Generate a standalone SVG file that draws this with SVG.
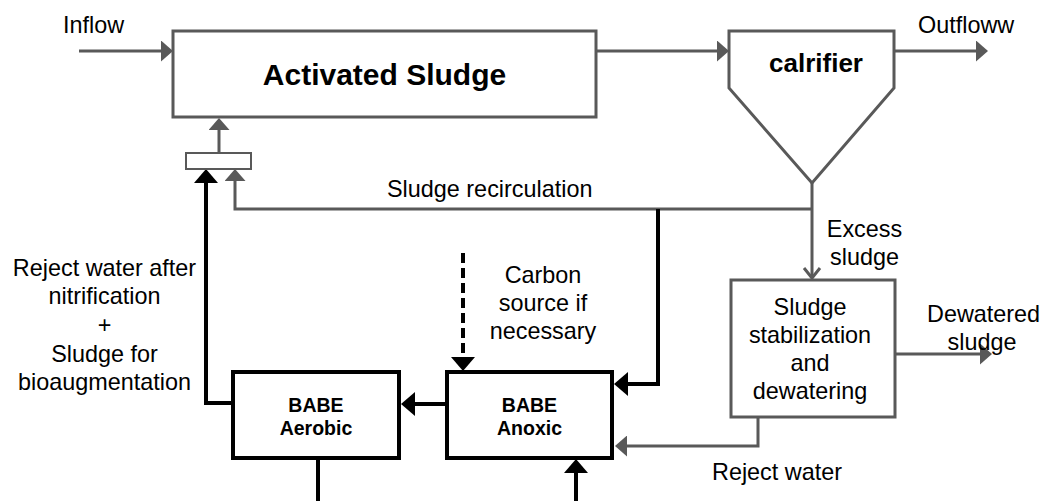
<svg xmlns="http://www.w3.org/2000/svg" width="1041" height="501" viewBox="0 0 1041 501">
  <style>
    text { font-family: "Liberation Sans", Arial, sans-serif; fill: #000; }
    .lbl { font-size: 23.4px; }
    .mid { text-anchor: middle; }
    .title { font-size: 30px; font-weight: bold; text-anchor: middle; }
    .clar { font-size: 26px; font-weight: bold; text-anchor: middle; }
    .babe { font-size: 19.5px; font-weight: bold; text-anchor: middle; }
    .gbox { fill: #fff; stroke: #595959; stroke-width: 3; }
    .bbox { fill: #fff; stroke: #000; stroke-width: 4; }
    .gline { fill: none; stroke: #595959; stroke-width: 3; }
    .bline { fill: none; stroke: #000; stroke-width: 4; }
  </style>
  <defs>
    <marker id="ag" markerUnits="userSpaceOnUse" markerWidth="12" markerHeight="21" refX="6" refY="10.5" orient="auto">
      <path d="M0,0 L12,10.5 L0,21 Z" fill="#595959"/>
    </marker>
    <marker id="ab" markerUnits="userSpaceOnUse" markerWidth="14" markerHeight="24" refX="7" refY="12" orient="auto">
      <path d="M0,0 L14,12 L0,24 Z" fill="#000"/>
    </marker>
    <marker id="ao" markerUnits="userSpaceOnUse" markerWidth="14" markerHeight="20" refX="11" refY="9" orient="auto" overflow="visible">
      <path d="M1,1 L11,9 L1,17" fill="none" stroke="#595959" stroke-width="3"/>
    </marker>
  </defs>

  <!-- connectors -->
  <g id="connectors">
    <line class="gline" x1="79" y1="51" x2="167" y2="51" marker-end="url(#ag)"/>
    <line class="gline" x1="596" y1="51" x2="723" y2="51" marker-end="url(#ag)"/>
    <line class="gline" x1="894" y1="51" x2="982" y2="51" marker-end="url(#ag)"/>
    <line class="gline" x1="219" y1="153" x2="219" y2="124" marker-end="url(#ag)"/>
    <path class="gline" d="M812,209 H235 V175" marker-end="url(#ag)"/>
    <line class="gline" x1="812" y1="183" x2="812" y2="278" marker-end="url(#ao)"/>
    <line class="gline" x1="895" y1="354" x2="986" y2="354" marker-end="url(#ag)"/>
    <path class="gline" d="M758,417 V446 H621" marker-end="url(#ag)"/>
    <path class="bline" d="M233,403 H206 V176" marker-end="url(#ab)"/>
    <path class="bline" d="M658,209 V384 H621" marker-end="url(#ab)"/>
    <line class="bline" x1="447" y1="404" x2="408" y2="404" marker-end="url(#ab)"/>
    <line class="bline" x1="463" y1="253" x2="463" y2="364" stroke-width="5" stroke-dasharray="10 5" marker-end="url(#ab)"/>
    <line class="bline" x1="318" y1="458" x2="318" y2="501"/>
    <line class="bline" x1="576" y1="501" x2="576" y2="466" marker-end="url(#ab)"/>
  </g>

  <!-- flow labels -->
  <g id="labels">
    <text class="lbl" x="63" y="33">Inflow</text>
    <text class="lbl" x="918" y="33">Outfloww</text>
    <text class="lbl" x="387" y="197">Sludge recirculation</text>
    <text class="lbl mid" x="864.5" y="237">Excess</text>
    <text class="lbl mid" x="864.5" y="265">sludge</text>
    <text class="lbl" x="927" y="322">Dewatered</text>
    <text class="lbl mid" x="982" y="350">sludge</text>
    <text class="lbl" x="712" y="480">Reject water</text>
    <text class="lbl mid" x="104.5" y="276">Reject water after</text>
    <text class="lbl mid" x="104.5" y="304">nitrification</text>
    <text class="lbl mid" x="104.5" y="333">+</text>
    <text class="lbl mid" x="104.5" y="362">Sludge for</text>
    <text class="lbl mid" x="104.5" y="390">bioaugmentation</text>
    <text class="lbl mid" x="543" y="283">Carbon</text>
    <text class="lbl mid" x="543" y="311">source if</text>
    <text class="lbl mid" x="543" y="339">necessary</text>
  </g>

  <!-- nodes -->
  <g id="activated-sludge">
    <rect class="gbox" x="173" y="31" width="423" height="86"/>
    <text class="title" x="384.5" y="85">Activated Sludge</text>
  </g>
  <g id="mixer">
    <rect x="186" y="153" width="65" height="16" fill="#fff" stroke="#595959" stroke-width="2"/>
  </g>
  <g id="clarifier">
    <path class="gbox" d="M729,31 H894 V88 L812,183 L729,88 Z"/>
    <text class="clar" x="816" y="72">calrifier</text>
  </g>
  <g id="sludge-treatment">
    <rect class="gbox" x="731" y="280" width="164" height="137"/>
    <text class="lbl mid" x="810" y="315">Sludge</text>
    <text class="lbl mid" x="810" y="343">stabilization</text>
    <text class="lbl mid" x="810" y="371">and</text>
    <text class="lbl mid" x="810" y="399">dewatering</text>
  </g>
  <g id="babe-aerobic">
    <rect class="bbox" x="233" y="372" width="166" height="86"/>
    <text class="babe" x="316" y="412">BABE</text>
    <text class="babe" x="316" y="435">Aerobic</text>
  </g>
  <g id="babe-anoxic">
    <rect class="bbox" x="447" y="372" width="165" height="86"/>
    <text class="babe" x="529.5" y="412">BABE</text>
    <text class="babe" x="529.5" y="435">Anoxic</text>
  </g>
</svg>
